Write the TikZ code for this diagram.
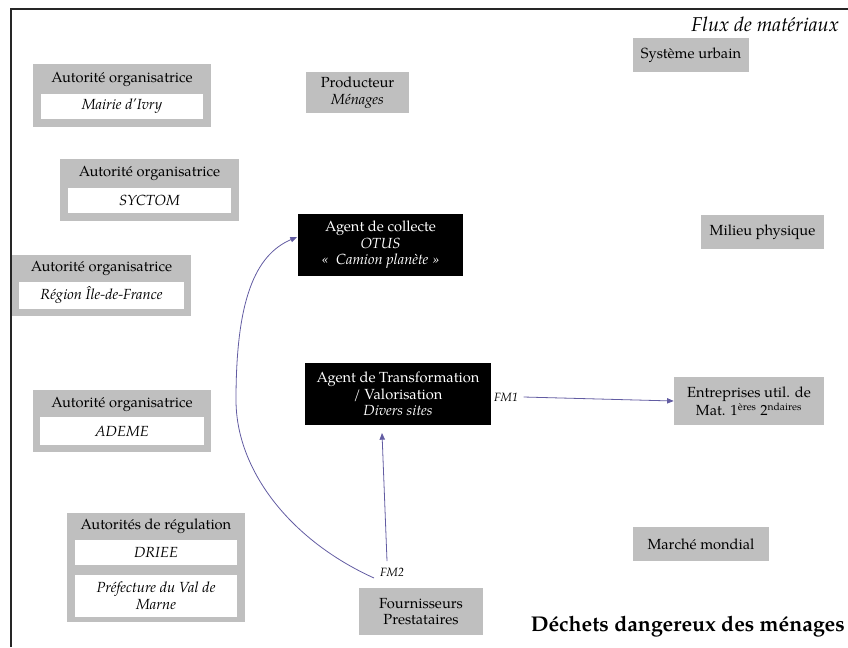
\documentclass[tikz,border=0pt]{standalone}
\usepackage{fontspec}
\setmainfont{TeX Gyre Pagella}
\usetikzlibrary{arrows.meta}
\definecolor{boxgray}{RGB}{191,191,191}
\definecolor{flow}{RGB}{98,92,162}
\tikzset{
  graybox/.style={fill=boxgray, align=center, inner sep=0pt, font=\fontsize{11}{12.4}\selectfont},
  blackbox/.style={fill=black, text=white, align=center, inner sep=0pt, font=\fontsize{11}{12.4}\selectfont},
  lbl/.style={inner sep=0pt, font=\fontsize{11}{12.4}\selectfont, align=center},
  flowlbl/.style={inner sep=1pt, font=\fontsize{9}{10}\selectfont\itshape},
  flowarrow/.style={draw=flow, line width=0.6pt, -{Triangle[length=5pt,width=4pt]}},
}
\begin{document}
\begin{tikzpicture}[x=0.75pt, y=-0.75pt]
\useasboundingbox (0,0) rectangle (848,647);
% frame
\draw[line width=1.5pt, black!85] (11,647) -- (11,9) -- (848,9);

% Autorité organisatrice - Mairie d'Ivry
\fill[boxgray] (33,64) rectangle (211,127);
\fill[white] (41,94) rectangle (203,119);
\node[lbl] (ao1) at (122,79) {Autorité organisatrice};
\node[lbl] (ao1b) at (122,106.5) {\itshape Mairie d’Ivry};

% SYCTOM
\fill[boxgray] (60,159) rectangle (239,221);
\fill[white] (68,188) rectangle (231,213);
\node[lbl] (ao2) at (149.5,173) {Autorité organisatrice};
\node[lbl] (ao2b) at (149.5,200.5) {\itshape SYCTOM};

% Région Île-de-France
\fill[boxgray] (12,255) rectangle (191,316);
\fill[white] (19,282) rectangle (184,309);
\node[lbl] (ao3) at (101.5,268) {Autorité organisatrice};
\node[lbl] (ao3b) at (101.5,295.5) {\itshape Région Île-de-France};

% ADEME
\fill[boxgray] (33,390) rectangle (211,452);
\fill[white] (40,417) rectangle (204,445);
\node[lbl] (ao4) at (122,404) {Autorité organisatrice};
\node[lbl] (ao4b) at (122,431) {\itshape ADEME};

% Autorités de régulation
\fill[boxgray] (67,513) rectangle (245,622);
\fill[white] (75,540) rectangle (237,565);
\fill[white] (75,575) rectangle (237,617);
\node[lbl] (reg) at (156,526) {Autorités de régulation};
\node[lbl] (regb) at (156,552.5) {\itshape DRIEE};
\node[lbl] (regc) at (156,596) {\itshape Préfecture du Val de\\\itshape Marne};

% Producteur
\node[graybox, minimum width=103*0.75pt, minimum height=41*0.75pt] (prod) at (357.5,92.5) {Producteur\\\itshape Ménages};

% Système urbain
\node[graybox, minimum width=116*0.75pt, minimum height=34*0.75pt] (su) at (691,55) {Système urbain};

% Milieu physique
\node[graybox, minimum width=123*0.75pt, minimum height=34*0.75pt] (mp) at (762.5,232) {Milieu physique};

% Flux de matériaux
\node[inner sep=0pt, anchor=base east, font=\fontsize{15}{16}\selectfont\itshape] (flux) at (839,31) {Flux de matériaux};

% Agent de collecte
\node[blackbox, minimum width=165*0.75pt, minimum height=62*0.75pt] (coll) at (380.5,245) {Agent de collecte\\\itshape OTUS\\\itshape «~ Camion planète~»};

% Agent de Transformation
\node[blackbox, minimum width=186*0.75pt, minimum height=62*0.75pt] (transfo) at (398,394) {Agent de Transformation\\/ Valorisation\\\itshape Divers sites};

% Entreprises
\node[graybox, minimum width=150*0.75pt, minimum height=48*0.75pt] (entr) at (749,401) {Entreprises util. de\\Mat. 1\textsuperscript{ères} 2\textsuperscript{ndaires}};

% Marché mondial
\node[graybox, minimum width=136*0.75pt, minimum height=34*0.75pt] (mm) at (701,544) {Marché mondial};

% Fournisseurs
\node[graybox, minimum width=124*0.75pt, minimum height=47*0.75pt] (fourn) at (421,611.5) {Fournisseurs\\Prestataires};

% Title
\node[inner sep=0pt, anchor=east, font=\fontsize{16}{18}\selectfont\bfseries] (title) at (845,627) {Déchets dangereux des ménages};

% flow labels
\node[flowlbl] (fm1) at (506,397) {FM1};
\node[flowlbl] (fm2) at (392,572) {FM2};

% coordinates for connector ends
\coordinate (fm2top) at (387,561);
\coordinate (transin) at (382,433);
\coordinate (fm2left) at (374,578);
\coordinate (collin) at (297,237);

% connectors
\draw[flowarrow] ([xshift=4*0.75pt]fm1.east) -- (entr.west);
\draw[flowarrow] (fm2top) -- (transin);
\draw[flowarrow] (fm2left) .. controls (290,540) and (236,470) .. (236,400)
   .. controls (236,300) and (255,255) .. (collin);
\end{tikzpicture}
\end{document}
